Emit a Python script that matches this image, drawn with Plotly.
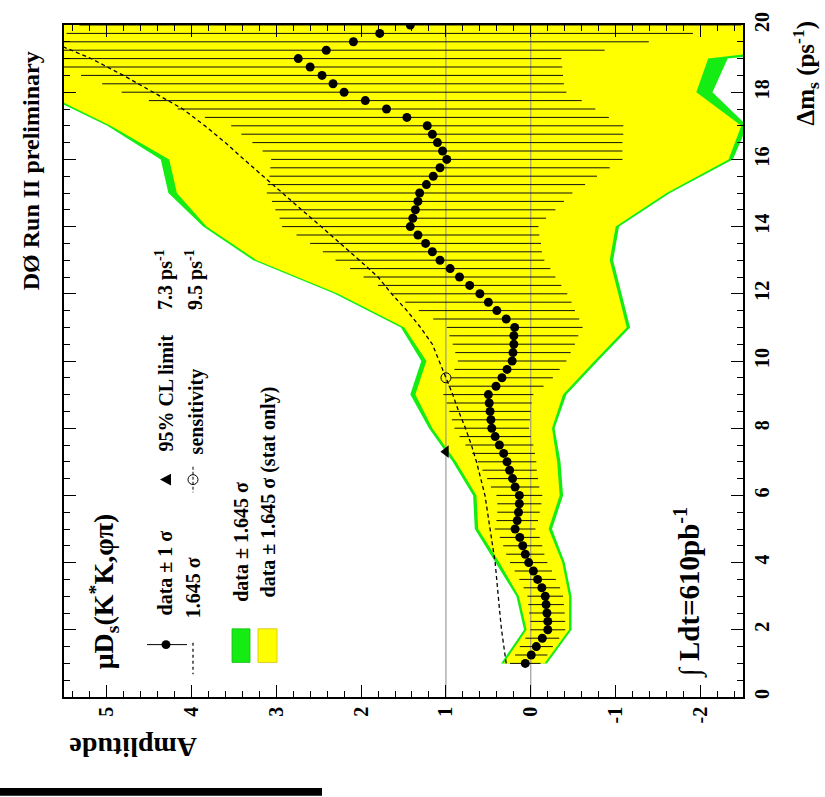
import plotly.graph_objects as go

# ---------------- data ----------------
dms = [1.0, 1.25, 1.5, 1.75, 2.0, 2.25, 2.5, 2.75, 3.0, 3.25, 3.5, 3.75,
       4.0, 4.25, 4.5, 4.75, 5.0, 5.25, 5.5, 5.75, 6.0, 6.25, 6.5, 6.75,
       7.0, 7.25, 7.5, 7.75, 8.0, 8.25, 8.5, 8.75, 9.0, 9.25, 9.5, 9.75,
       10.0, 10.25, 10.5, 10.75, 11.0, 11.25, 11.5, 11.75, 12.0, 12.25, 12.5, 12.75,
       13.0, 13.25, 13.5, 13.75, 14.0, 14.25, 14.5, 14.75, 15.0, 15.25, 15.5, 15.75,
       16.0, 16.25, 16.5, 16.75, 17.0, 17.25, 17.5, 17.75, 18.0, 18.25, 18.5, 18.75,
       19.0, 19.25, 19.5, 19.75, 20.0]

amplitude = [0.065, -0.005, -0.065, -0.135, -0.20, -0.20, -0.19, -0.18,
             -0.17, -0.13, -0.08, -0.03, 0.025, 0.065, 0.095, 0.13,
             0.185, 0.16, 0.145, 0.135, 0.135, 0.185, 0.215, 0.25,
             0.28, 0.32, 0.37, 0.42, 0.46, 0.47, 0.48, 0.49,
             0.50, 0.41, 0.34, 0.28, 0.22, 0.21, 0.20, 0.20,
             0.19, 0.29, 0.40, 0.50, 0.60, 0.72, 0.84, 0.95,
             1.07, 1.16, 1.24, 1.33, 1.42, 1.39, 1.36, 1.33,
             1.31, 1.23, 1.15, 1.07, 0.99, 1.04, 1.10, 1.16,
             1.22, 1.46, 1.70, 1.95, 2.20, 2.33, 2.46, 2.60,
             2.74, 2.41, 2.09, 1.78, 1.42]

sigma = [0.18, 0.19, 0.195, 0.20, 0.205, 0.205, 0.21, 0.21,
         0.21, 0.215, 0.215, 0.22, 0.22, 0.225, 0.23, 0.235,
         0.24, 0.245, 0.25, 0.26, 0.27, 0.285, 0.30, 0.32,
         0.345, 0.37, 0.40, 0.42, 0.44, 0.46, 0.48, 0.50,
         0.53, 0.56, 0.60, 0.62, 0.64, 0.68, 0.72, 0.76,
         0.80, 0.86, 0.92, 0.98, 1.03, 1.08, 1.13, 1.18,
         1.23, 1.29, 1.36, 1.43, 1.51, 1.57, 1.65, 1.72,
         1.80, 1.87, 1.93, 2.00, 2.07, 2.12, 2.18, 2.25,
         2.31, 2.38, 2.46, 2.55, 2.62, 2.72, 2.84, 2.97,
         3.10, 3.28, 3.48, 3.69, 3.90]

band_dms = [1, 2, 3, 4, 5, 6, 7, 8, 9, 10, 11, 12, 13, 14, 15, 16, 17, 18, 19, 20]
green_hi = [0.35, 0.08, 0.17, 0.41, 0.66, 0.68, 0.92, 1.20, 1.42, 1.29,
            1.53, 2.31, 3.27, 3.86, 4.27, 4.36, 4.99, 5.80, 6.50, 7.00]
yellow_hi = [0.32, 0.05, 0.14, 0.37, 0.62, 0.64, 0.88, 1.16, 1.36, 1.23,
             1.49, 2.27, 3.23, 3.82, 4.17, 4.26, 4.95, 5.75, 6.40, 6.90]
yellow_lo = [-0.16, -0.45, -0.45, -0.37, -0.21, -0.34, -0.31, -0.25, -0.38, -0.75,
             -1.13, -1.03, -0.93, -1.00, -1.60, -2.33, -2.48, -1.95, -2.09, -5.50]
green_lo = [-0.19, -0.48, -0.48, -0.40, -0.25, -0.38, -0.35, -0.28, -0.42, -0.79,
            -1.17, -1.07, -0.97, -1.04, -1.64, -2.38, -2.55, -2.14, -2.32, -6.00]

sens_dms = [1.0, 1.5, 2.0, 2.5, 3.0, 3.5, 4.0, 4.5, 5.0, 5.5, 6.0, 6.5, 7.0,
            7.5, 8.0, 8.5, 9.0, 9.5, 10.0, 10.5, 11.0, 11.5, 12.0, 12.5, 13.0,
            13.5, 14.0, 14.5, 15.0, 15.5, 16.0, 16.5, 17.0, 17.5, 18.0, 18.5,
            19.0, 19.5]
sens_amp = [0.29, 0.32, 0.345, 0.365, 0.385, 0.40, 0.42, 0.45, 0.48, 0.51,
            0.54, 0.59, 0.64, 0.70, 0.77, 0.85, 0.92, 1.00, 1.08, 1.16,
            1.30, 1.46, 1.64, 1.80, 2.02, 2.24, 2.47, 2.70, 2.93, 3.16,
            3.38, 3.60, 3.84, 4.10, 4.45, 4.80, 5.18, 5.65]

cl_limit = 7.3
sensitivity = 9.5

amp_ticks = [-2, -1, 0, 1, 2, 3, 4, 5]
dms_ticks = [0, 2, 4, 6, 8, 10, 12, 14, 16, 18, 20]

# ---------------- styling ----------------
GREEN = "#14ec14"
YELLOW = "#ffff00"
SERIF = "Liberation Serif"

W_FIG, H_FIG = 825, 797
L, R, T, B = 64, 82, 17, 100
PW, PH = W_FIG - L - R, H_FIG - T - B


def PX(x):
    return (x - L) / PW


def PY(y):
    return (T + PH - y) / PH


fig = go.Figure()

# bands
fig.add_trace(go.Scatter(x=green_hi + green_lo[::-1], y=band_dms + band_dms[::-1],
                         fill="toself", fillcolor=GREEN, line=dict(width=0),
                         mode="lines", hoverinfo="skip"))
fig.add_trace(go.Scatter(x=yellow_hi + yellow_lo[::-1], y=band_dms + band_dms[::-1],
                         fill="toself", fillcolor=YELLOW, line=dict(width=0),
                         mode="lines", hoverinfo="skip"))

# reference lines at amplitude 0 and 1
for a in (0, 1):
    fig.add_trace(go.Scatter(x=[a, a], y=[0, 20], mode="lines",
                             line=dict(color="#8a8a8a", width=1), hoverinfo="skip"))

# 1.645 sigma curve
fig.add_trace(go.Scatter(x=sens_amp, y=sens_dms, mode="lines",
                         line=dict(color="black", width=1.3, dash="4px,3px")))

# data with error bars
fig.add_trace(go.Scatter(x=amplitude, y=dms, mode="markers",
                         marker=dict(color="black", size=9),
                         error_x=dict(type="data", array=sigma, color="#111111",
                                      thickness=1, width=0)))

# limit and sensitivity markers
fig.add_trace(go.Scatter(x=[1], y=[cl_limit], mode="markers",
                         marker=dict(symbol="triangle-left", color="black", size=11)))
fig.add_trace(go.Scatter(x=[1], y=[sensitivity], mode="markers",
                         marker=dict(symbol="circle-open", color="black", size=10,
                                     line=dict(width=1))))

# ---------------- annotations ----------------
ann = []


def text(x, y, s, size, angle=-90):
    ann.append(dict(x=PX(x), y=PY(y), xref="paper", yref="paper", text="<b>%s</b>" % s,
                    showarrow=False, textangle=angle, xanchor="center", yanchor="middle",
                    font=dict(family=SERIF, size=size, color="black")))


text(31, 165, "DØ Run II preliminary", 24)
text(806, 66, "Δm<sub>s</sub> (ps<sup>-1</sup>)", 25)
text(133, 748, "Amplitude", 28, 180)
text(104, 590, "μD<sub>s</sub>(K<sup>*</sup>K,φπ)", 28)
text(688, 591, "∫ Ldt=610pb<sup>-1</sup>", 29)
text(165, 572, "data ± 1 σ", 20)
text(193, 587, "1.645 σ", 20)
text(241, 540, "data ± 1.645 σ", 20)
text(268, 490, "data ± 1.645 σ (stat only)", 20)
text(166, 390, "95% CL limit", 20)
text(165, 275, "7.3 ps<sup>-1</sup>", 20)
text(196, 408, "sensitivity", 20)
text(195, 275, "9.5 ps<sup>-1</sup>", 20)

# ---------------- legend symbols & decorations ----------------
shapes = []
# data symbol
shapes.append(dict(type="line", xref="paper", yref="paper", x0=PX(147), x1=PX(187),
                   y0=PY(644), y1=PY(644), line=dict(color="black", width=1)))
shapes.append(dict(type="circle", xref="paper", yref="paper", x0=PX(161.5), x1=PX(170.5),
                   y0=PY(648.5), y1=PY(639.5), fillcolor="black", line=dict(color="black", width=0)))
# dashed symbol
shapes.append(dict(type="line", xref="paper", yref="paper", x0=PX(193), x1=PX(193),
                   y0=PY(642), y1=PY(674), line=dict(color="black", width=1.2, dash="3px,3px")))
# boxes
shapes.append(dict(type="rect", xref="paper", yref="paper", x0=PX(232), x1=PX(250),
                   y0=PY(662), y1=PY(628), fillcolor=GREEN, line=dict(color="#0fbf0f", width=0.8)))
shapes.append(dict(type="rect", xref="paper", yref="paper", x0=PX(258), x1=PX(277),
                   y0=PY(662), y1=PY(628), fillcolor=YELLOW, line=dict(color="#d8c000", width=0.8)))
# triangle symbol
shapes.append(dict(type="path", xref="paper", yref="paper",
                   path="M %f %f L %f %f L %f %f Z" % (PX(160), PY(477), PX(171), PY(471),
                                                       PX(171), PY(483)),
                   fillcolor="black", line=dict(color="black", width=0)))
# sensitivity symbol
shapes.append(dict(type="line", xref="paper", yref="paper", x0=PX(193), x1=PX(193),
                   y0=PY(464), y1=PY(490), line=dict(color="black", width=1, dash="3px,2px")))
shapes.append(dict(type="circle", xref="paper", yref="paper", x0=PX(188), x1=PX(198),
                   y0=PY(482), y1=PY(472), line=dict(color="black", width=1)))
# black bar at the bottom-left
shapes.append(dict(type="rect", xref="paper", yref="paper", x0=PX(0), x1=PX(322),
                   y0=PY(797), y1=PY(789), fillcolor="black", line=dict(width=0)))

axis_common = dict(showline=True, linecolor="black", linewidth=1.5, mirror="ticks",
                   ticks="inside", ticklen=12, tickwidth=1.2, tickcolor="black",
                   showgrid=False, zeroline=False, tickangle=-90,
                   tickfont=dict(family=SERIF, size=20, color="black", weight="bold"))

fig.update_layout(
    width=W_FIG, height=H_FIG,
    margin=dict(l=L, r=R, t=T, b=B),
    paper_bgcolor="white", plot_bgcolor="white",
    showlegend=False,
    xaxis=dict(range=[5.5, -2.5], tickvals=amp_ticks, ticktext=[str(v) for v in amp_ticks],
               minor=dict(dtick=0.2, ticks="inside", ticklen=6, tickcolor="black", tickwidth=1),
               **axis_common),
    yaxis=dict(range=[0, 20], side="right", tickvals=dms_ticks, ticktext=[str(v) for v in dms_ticks],
               minor=dict(dtick=0.5, ticks="inside", ticklen=6, tickcolor="black", tickwidth=1),
               **axis_common),
    annotations=ann,
    shapes=shapes,
)

fig.write_html("out.html")
